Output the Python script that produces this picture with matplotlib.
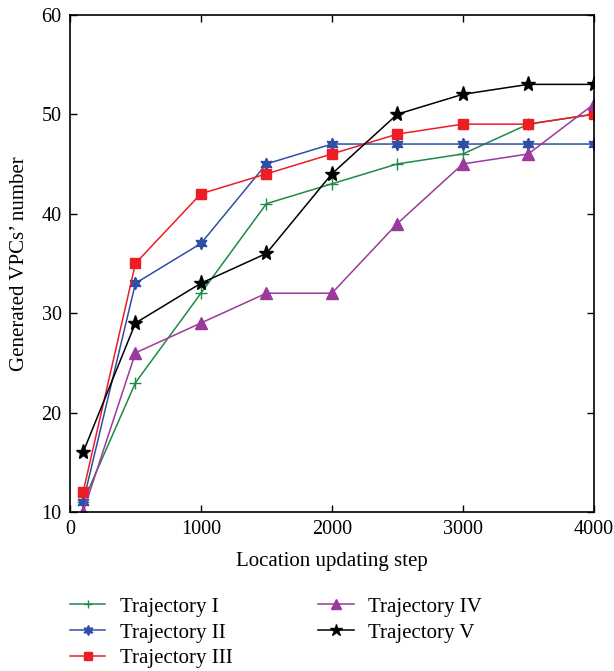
import matplotlib
matplotlib.use("Agg")
import matplotlib.pyplot as plt

plt.rcParams['font.family'] = ['Liberation Serif', 'DejaVu Serif']

steps = [100, 500, 1000, 1500, 2000, 2500, 3000, 3500, 4000]
traj_1 = [11, 23, 32, 41, 43, 45, 46, 49, 50]
traj_2 = [11, 33, 37, 45, 47, 47, 47, 47, 47]
traj_3 = [12, 35, 42, 44, 46, 48, 49, 49, 50]
traj_4 = [10, 26, 29, 32, 32, 39, 45, 46, 51]
traj_5 = [16, 29, 33, 36, 44, 50, 52, 53, 53]

names = ["Trajectory I", "Trajectory II", "Trajectory III", "Trajectory IV", "Trajectory V"]

fig = plt.figure(figsize=(6.14, 6.71), dpi=100)
ax = fig.add_axes([0.114, 0.237, 0.853, 0.741])

ax.plot(steps, traj_1, color='#1d8a45', marker='+', markersize=8, lw=1.1, label=names[0])
ax.plot(steps, traj_2, color='#2e4fa3', marker=(6, 1, 0), markersize=9, lw=1.1, label=names[1])
ax.plot(steps, traj_3, color='#ee1c25', marker='s', markersize=7, lw=1.1, label=names[2])
ax.plot(steps, traj_4, color='#9a3a9a', marker='^', markersize=9, lw=1.1, label=names[3])
ax.plot(steps, traj_5, color='black', marker='*', markersize=11, lw=1.1, label=names[4])

ax.set_xlim(0, 4000)
ax.set_ylim(10, 60)
ax.set_xticks([0, 1000, 2000, 3000, 4000])
ax.set_yticks([10, 20, 30, 40, 50, 60])
ax.tick_params(direction='in', top=True, right=True, labelsize=14.5, length=5, width=1, pad=6)
for s in ax.spines.values():
    s.set_linewidth(1.2)
ax.set_xlabel('Location updating step', fontsize=15, labelpad=9)
ax.set_ylabel('Generated VPCs\u2019 number', fontsize=15, labelpad=9)

fig.legend(loc='upper left', bbox_to_anchor=(0.114, 0.11), ncol=2, frameon=False,
           fontsize=15, handlelength=1.7, handletextpad=0.7, columnspacing=4.1,
           labelspacing=0.3, borderpad=0, borderaxespad=0, markerscale=0.8)

fig.savefig('out.png', dpi=100)
